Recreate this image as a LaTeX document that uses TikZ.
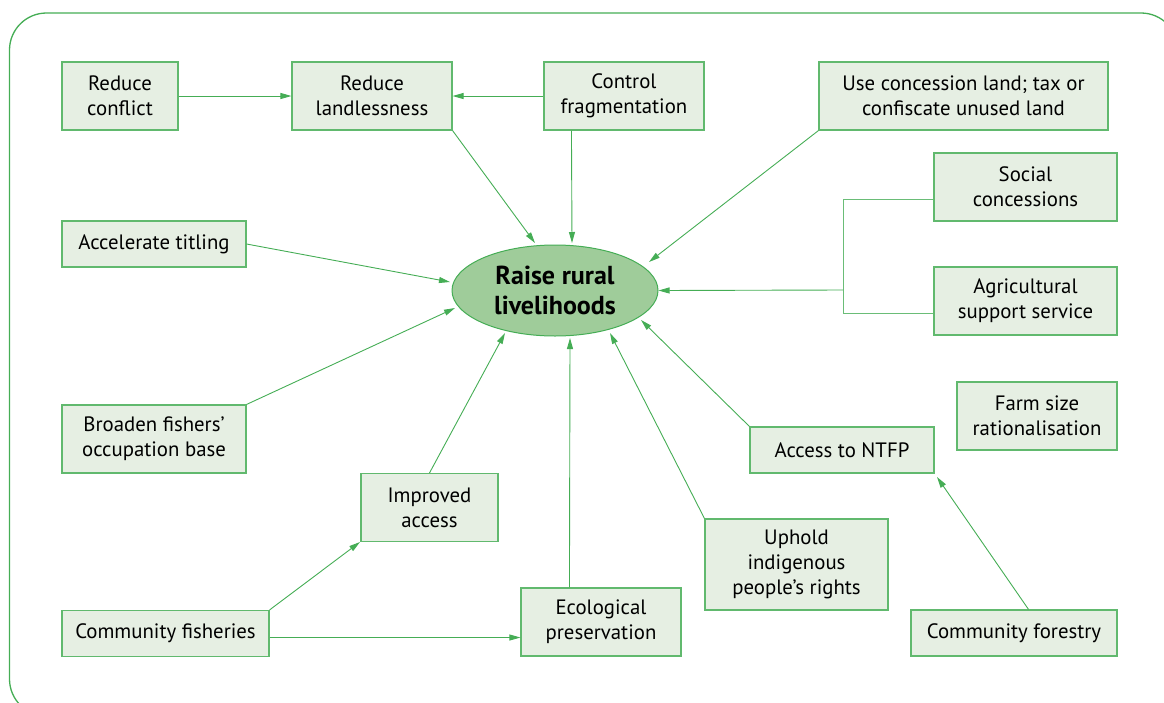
\documentclass[tikz,border=0pt]{standalone}
\usepackage{fontspec}
\setmainfont{PT Sans}
\usepackage{xcolor}
\usetikzlibrary{shapes, arrows.meta, positioning, calc}

\definecolor{leaf}{HTML}{45AD55}
\definecolor{boxfill}{HTML}{E6EFE3}
\definecolor{hubfill}{HTML}{9FCC9A}

\begin{document}
\begin{tikzpicture}[
  x=1pt, y=-1pt,
  font=\fontsize{20.8}{25}\selectfont,
  box/.style={draw=leaf!85, fill=boxfill, line width=1.1pt, inner sep=0pt, align=center, minimum height=46pt},
  tall/.style={box, minimum height=68pt},
  hub/.style={ellipse, draw=leaf, fill=hubfill, line width=1pt, minimum width=206pt, minimum height=91pt, inner sep=0pt, align=center, font=\fontsize{26}{30}\selectfont\bfseries},
  arrow/.style={-{Triangle[length=11pt, width=6pt]}, draw=leaf, line width=0.9pt},
  link/.style={draw=leaf!80, line width=0.9pt}
]
\useasboundingbox (0,0) rectangle (1164,702);

% Frame
\draw[leaf, line width=1.3pt, rounded corners=37pt] (9.5,13) rectangle (1178,716);

% Centre
\node[hub] (raise) at (555,290.5) {Raise rural\\livelihoods};

% Top row
\node[tall, minimum width=116pt] (conflict) at (120,96) {Reduce\\conflict};
\node[tall, minimum width=160pt] (landless) at (372,96) {Reduce\\landlessness};
\node[tall, minimum width=160pt] (frag) at (624,96) {Control\\fragmentation};
\node[tall, minimum width=289pt] (concland) at (963.5,96) {Use concession land; tax or\\confiscate unused land};

% Right side
\node[tall, minimum width=183pt] (social) at (1025.5,187) {Social\\concessions};
\node[tall, minimum width=183pt] (agri) at (1025.5,301) {Agricultural\\support service};
\node[tall, minimum width=160pt] (farm) at (1037,416) {Farm size\\rationalisation};
\node[box, minimum width=184pt] (ntfp) at (842,450) {Access to NTFP};

% Left side
\node[box, minimum width=184pt] (titling) at (154,244) {Accelerate titling};
\node[tall, minimum width=184pt] (fishers) at (154,439) {Broaden fishers'\\occupation base};

% Bottom
\node[tall, minimum width=137pt] (access) at (429.5,507.5) {Improved\\access};
\node[box, minimum width=207pt] (cfish) at (165.5,633.5) {Community fisheries};
\node[tall, minimum width=160pt] (eco) at (601,622) {Ecological\\preservation};
\node[tall, minimum width=183pt, minimum height=91pt] (uphold) at (796.5,564.5) {Uphold\\indigenous\\people's rights};
\node[box, minimum width=206pt] (cforest) at (1014,633) {Community forestry};

% Junction for the two right boxes
\coordinate (fork) at (843,290);

% Arrows
\draw[arrow] (conflict) -- (landless);
\draw[arrow] (frag) -- (landless);
\draw[arrow] (landless.south east) -- (535,243);
\draw[arrow] ([xshift=28pt]frag.south west) -- (572,243);
\draw[arrow] (concland.south west) -- (649,262);
\draw[link] (social.west |- 0,199) -| (843,313) -- (agri.west |- 0,313);
\draw[arrow] (fork) -- (raise.east);
\draw[arrow] (titling.east) -- (450,282);
\draw[arrow] (fishers.north east) -- (455,308);
\draw[arrow] (access.north) -- (505,333);
\draw[arrow] ([xshift=49pt]eco.north west) -- (570,338);
\draw[arrow] (uphold.north west) -- (610,333);
\draw[arrow] (ntfp.north west) -- (641,320);
\draw[arrow] ([xshift=-89pt]cforest.north east) -- (937,477);
\draw[arrow] ([yshift=-4pt]cfish.east) -- ([yshift=-4pt]eco.west |- cfish.east);
\draw[arrow] (cfish.north east) -- (360,542);

\end{tikzpicture}
\end{document}
